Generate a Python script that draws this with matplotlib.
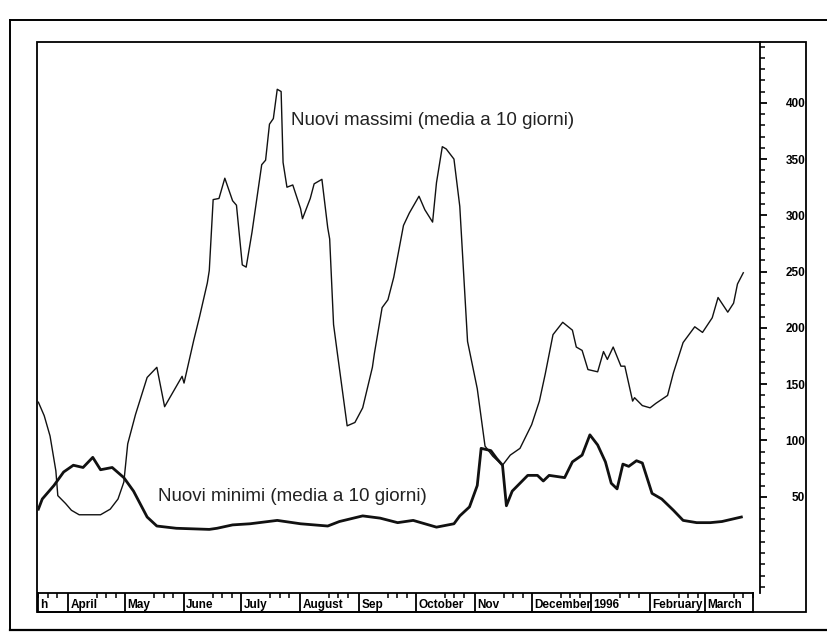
import numpy as np
import pandas as pd
import matplotlib
matplotlib.use("Agg")
import matplotlib.pyplot as plt
from matplotlib.patches import Rectangle
from matplotlib.lines import Line2D

# days counted from 1 April 1995
base = pd.Timestamp("1995-04-01")

highsDays = [-15, -12, -9, -6, -5, -1, 2, 6, 12, 17,
             22, 26, 29, 31, 35, 41, 46, 50, 54, 59,
             60, 65, 68, 72, 73, 75, 78, 81, 85, 87,
             90, 92, 95, 100, 102, 104, 106, 108, 110, 111,
             113, 116, 120, 121, 125, 127, 131, 134, 135, 137,
             139, 144, 148, 152, 157, 158, 162, 165, 168, 173,
             176, 181, 184, 188, 190, 193, 195, 199, 202, 206,
             211, 215, 219, 224, 228, 233, 239, 243, 246, 250,
             255, 260, 262, 265, 268, 273, 276, 278, 281, 285,
             287, 291, 292, 296, 300, 303, 309, 312, 317, 323,
             327, 332, 335, 340, 343, 345, 348]
highsValues = [134, 122, 104, 73, 51, 44, 38, 34, 34, 34,
               39, 48, 63, 97, 123, 156, 165, 130, 142, 157,
               151, 189, 210, 240, 251, 314, 315, 333, 313, 309,
               256, 254, 285, 345, 349, 381, 386, 412, 410, 347,
               325, 327, 306, 297, 315, 328, 332, 289, 279, 203,
               177, 113, 116, 129, 165, 177, 218, 225, 245, 291,
               302, 317, 305, 294, 329, 361, 359, 350, 308, 188,
               146, 95, 86, 78, 87, 93, 114, 135, 159, 194,
               205, 198, 183, 180, 163, 161, 179, 172, 183, 166,
               166, 135, 138, 131, 129, 133, 140, 160, 187, 201,
               196, 209, 227, 214, 222, 239, 249]

lowsDays = [-15, -13, -7, -2, 3, 8, 13, 17, 23, 29,
            34, 41, 46, 56, 73, 77, 85, 94, 108, 120,
            134, 140, 152, 161, 170, 178, 190, 199, 202, 207,
            211, 213, 218, 221, 224, 226, 229, 237, 242, 245,
            248, 256, 260, 265, 269, 273, 277, 280, 283, 286,
            289, 293, 296, 301, 306, 312, 317, 324, 331, 337,
            342, 347]
lowsValues = [39, 48, 60, 72, 78, 76, 85, 74, 76, 67,
              55, 32, 24, 22, 21, 22, 25, 26, 29, 26,
              24, 28, 33, 31, 27, 29, 23, 26, 33, 41,
              60, 93, 91, 84, 78, 42, 55, 69, 69, 64,
              69, 67, 81, 87, 105, 96, 81, 62, 57, 79,
              77, 82, 80, 53, 48, 38, 29, 27, 27, 28,
              30, 32]

monthStarts = ["1995-04-01", "1995-05-01", "1995-06-01", "1995-07-01",
               "1995-08-01", "1995-09-01", "1995-10-01", "1995-11-01",
               "1995-12-01", "1996-01-01", "1996-02-01", "1996-03-01"]
monthLabels = ["April", "May", "June", "July", "August", "Sep", "October",
               "Nov", "December", "1996", "February", "March"]

yTicks = [50, 100, 150, 200, 250, 300, 350, 400]

highsLabel = "Nuovi massimi (media a 10 giorni)"
lowsLabel = "Nuovi minimi (media a 10 giorni)"

W, H = 828, 633
fig = plt.figure(figsize=(W / 100, H / 100), dpi=100)


def fig_box(x0, y0, x1, y1):
    # pixel box (top-left origin) -> figure fraction rect
    return [x0 / W, 1 - y1 / H, (x1 - x0) / W, (y1 - y0) / H]


xmin, xmax = -15.2, 356.6
ymin, ymax = -35.5, 454

# outer and inner frames
fig.add_artist(Line2D([10 / W, 10 / W], [1 - 630 / H, 1 - 20 / H], color="black", lw=1.4))
fig.add_artist(Line2D([10 / W, 1], [1 - 20 / H, 1 - 20 / H], color="black", lw=1.4))
fig.add_artist(Line2D([10 / W, 1], [1 - 630 / H, 1 - 630 / H], color="black", lw=1.6))
fig.add_artist(Rectangle((37 / W, 1 - 612 / H), (806 - 37) / W, (612 - 42) / H,
                         transform=fig.transFigure, fill=False, ec="black", lw=1.3))

ax = fig.add_axes(fig_box(38, 42, 760, 593))
ax.plot(highsDays, highsValues, color="#111111", lw=1.0, solid_joinstyle="round")
ax.plot(lowsDays, lowsValues, color="#111111", lw=2.0, solid_joinstyle="round")
ax.set_xlim(xmin, xmax)
ax.set_ylim(ymin, ymax)

for side in ["left", "top", "bottom"]:
    ax.spines[side].set_visible(False)
ax.spines["right"].set_linewidth(1.3)
ax.set_xticks([])
ax.yaxis.tick_right()
ax.set_yticks(yTicks)
ax.set_yticks(np.arange(-30, 460, 10), minor=True)
ax.tick_params(axis="y", which="major", direction="out", length=5, width=1.3, pad=27.5)
ax.tick_params(axis="y", which="minor", direction="out", length=3.5, width=1.1)
for lbl in ax.get_yticklabels():
    lbl.set_horizontalalignment("right")
    lbl.set_fontfamily("Liberation Sans")
    lbl.set_fontweight("bold")
    lbl.set_fontsize(8.5)

ax.text(115, 384, highsLabel, fontsize=13.5, family="Liberation Sans",
        color="#222222", va="center", ha="left")
ax.text(46.6, 50.6, lowsLabel, fontsize=13.5, family="Liberation Sans",
        color="#222222", va="center", ha="left")

# date bar below the plot
axd = fig.add_axes(fig_box(38, 593, 753, 612))
axd.set_xlim(xmin, 353)
axd.set_ylim(0, 1)
axd.set_yticks([])
for side in axd.spines:
    axd.spines[side].set_linewidth(1.3)

startDays = [(pd.Timestamp(d) - base).days for d in monthStarts]
tickDays = []
for d in [pd.Timestamp("1995-03-01")] + [pd.Timestamp(m) for m in monthStarts]:
    for dd in [16, 21, 26]:
        tickDays.append((d + pd.Timedelta(days=dd - 1) - base).days)
axd.xaxis.tick_top()
axd.set_xticks(tickDays)
axd.set_xticklabels([])
axd.tick_params(axis="x", direction="in", length=3.5, width=1.1)

for day, name in zip(startDays, monthLabels):
    axd.axvline(day, color="black", lw=1.3)
    axd.text(day + 1, 0.38, name, fontsize=8.5, fontweight="bold",
             family="Liberation Sans", va="center", ha="left", clip_on=True)
axd.text(xmin + 0.3, 0.38, "h", fontsize=8.5, fontweight="bold",
         family="Liberation Sans", va="center", ha="left")

fig.savefig("out.png", dpi=100)
